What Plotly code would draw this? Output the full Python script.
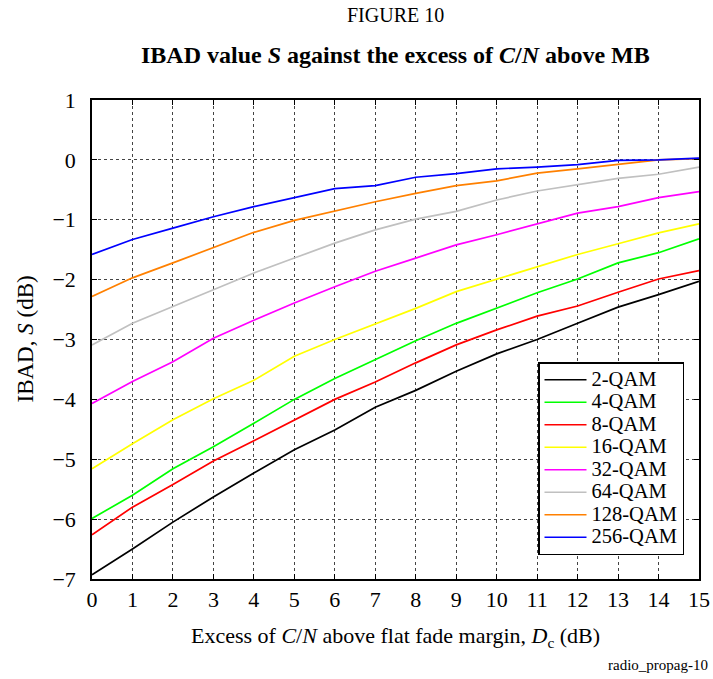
import plotly.graph_objects as go

# Excess of C/N above flat fade margin, Dc (dB)
dc = list(range(16))

# IBAD value S (dB) for each modulation order
s_2qam = [-6.93, -6.50, -6.05, -5.63, -5.23, -4.84, -4.51, -4.13, -3.85, -3.53, -3.24, -3.00, -2.73, -2.46, -2.25, -2.03]
s_4qam = [-5.99, -5.60, -5.16, -4.79, -4.40, -4.00, -3.65, -3.33, -3.02, -2.73, -2.48, -2.22, -1.99, -1.72, -1.55, -1.32]
s_8qam = [-6.26, -5.80, -5.42, -5.03, -4.69, -4.34, -4.00, -3.71, -3.39, -3.09, -2.84, -2.61, -2.44, -2.21, -1.99, -1.85]
s_16qam = [-5.16, -4.74, -4.34, -3.99, -3.68, -3.28, -3.00, -2.74, -2.48, -2.20, -1.99, -1.78, -1.58, -1.40, -1.22, -1.07]
s_32qam = [-4.07, -3.70, -3.37, -2.98, -2.68, -2.39, -2.12, -1.86, -1.64, -1.42, -1.25, -1.07, -0.89, -0.78, -0.63, -0.53]
s_64qam = [-3.09, -2.73, -2.45, -2.17, -1.89, -1.64, -1.39, -1.17, -0.99, -0.86, -0.67, -0.52, -0.42, -0.31, -0.24, -0.12]
s_128qam = [-2.28, -1.97, -1.72, -1.47, -1.21, -1.01, -0.85, -0.70, -0.56, -0.43, -0.35, -0.22, -0.15, -0.07, 0.00, 0.02]
s_256qam = [-1.58, -1.33, -1.14, -0.95, -0.78, -0.63, -0.48, -0.43, -0.29, -0.23, -0.15, -0.12, -0.08, -0.01, 0.00, 0.03]

names = ["2-QAM", "4-QAM", "8-QAM", "16-QAM", "32-QAM", "64-QAM", "128-QAM", "256-QAM"]
series = [s_2qam, s_4qam, s_8qam, s_16qam, s_32qam, s_64qam, s_128qam, s_256qam]
colors = ["#000000", "#00ff00", "#ff0000", "#ffff00", "#ff00ff", "#c0c0c0", "#ff8000", "#0000ff"]

x_ticks = list(range(16))
y_ticks = list(range(-7, 2))

FONT = "Liberation Serif, Times New Roman, serif"

fig = go.Figure()
for name, vals, col in zip(names, series, colors):
    fig.add_trace(go.Scatter(
        x=dc, y=vals, mode="lines",
        # legend rows are spaced by legend.font.size; the label itself is drawn larger
        name=f'<span style="font-size:20.5px">{name}</span>',
        line=dict(color=col, width=1.7),
    ))

axis_common = dict(
    showline=True, linecolor="black", linewidth=1.5, mirror="ticks",
    ticks="inside", ticklen=5, tickcolor="black", tickwidth=1,
    showgrid=True, gridcolor="#444444", griddash="dot", gridwidth=1,
    zeroline=False, automargin=False,
    tickfont=dict(family=FONT, size=22, color="black"),
)

fig.update_layout(
    width=713, height=679,
    margin=dict(l=92, r=14, t=100, b=100),
    paper_bgcolor="white", plot_bgcolor="white",
    font=dict(family=FONT, color="black"),
    showlegend=True,
    legend=dict(
        x=(538 - 92) / (699 - 92), y=(579 - 362) / (579 - 100),
        xanchor="left", yanchor="top", xref="paper",
        bgcolor="white", bordercolor="black", borderwidth=1.5,
        font=dict(family=FONT, size=15, color="black"),
        itemwidth=42, tracegroupgap=0,
    ),
    xaxis=dict(range=[0, 15], tickvals=x_ticks, ticklabelstandoff=0, **axis_common),
    yaxis=dict(range=[-7, 1], tickvals=y_ticks, ticklabelstandoff=10, **axis_common),
    annotations=[
        dict(text="FIGURE 10", xref="paper", yref="paper", x=0.5, y=0,
             yshift=579 - 15, showarrow=False, xanchor="center", yanchor="middle",
             font=dict(family=FONT, size=20, color="black")),
        dict(text="<b>IBAD value <i>S</i> against the excess of <i>C</i>/<i>N</i> above MB</b>",
             xref="paper", yref="paper", x=0.5, y=0, yshift=579 - 55,
             showarrow=False, xanchor="center", yanchor="middle",
             font=dict(family=FONT, size=24, color="black")),
        dict(text="Excess of <i>C</i>/<i>N</i> above flat fade margin, <i>D</i><sub>c</sub> (dB)",
             xref="paper", yref="paper", x=0.5, y=0, yshift=579 - 637,
             showarrow=False, xanchor="center", yanchor="middle",
             font=dict(family=FONT, size=22, color="black")),
        dict(text="IBAD, <i>S</i> (dB)", textangle=-90,
             xref="paper", yref="paper", x=0, y=0.5, xshift=25 - 92,
             showarrow=False, xanchor="center", yanchor="middle",
             font=dict(family=FONT, size=23, color="black")),
        dict(text="radio_propag-10", xref="paper", yref="paper", x=1, y=0,
             xshift=11, yshift=579 - 665, showarrow=False, xanchor="right", yanchor="middle",
             font=dict(family=FONT, size=15, color="black")),
    ],
)

fig.write_html("out.html")
